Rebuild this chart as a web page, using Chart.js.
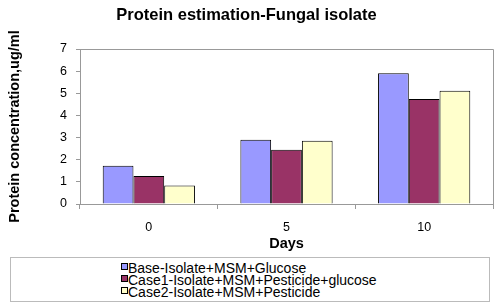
<!DOCTYPE html>
<html>
<head>
<meta charset="utf-8">
<script src="https://cdn.jsdelivr.net/npm/chart.js@4.4.1/dist/chart.umd.min.js"></script>
<style>
  html, body { margin: 0; padding: 0; background: #fff; }
  #wrap { position: relative; width: 500px; height: 308px; overflow: hidden; }
  #c { position: absolute; left: 0; top: 0; }
  #legend {
    position: absolute; left: 10px; top: 257px; width: 478px; height: 43px;
    border: 1px solid #bbb; box-sizing: content-box;
    font-family: "Liberation Sans", Arial, sans-serif; font-size: 14px; color: #000;
  }
  .item { position: absolute; left: 110px; height: 12px; line-height: 12px; white-space: nowrap; }
  .sw { position: absolute; left: 0; top: 1px; width: 5px; height: 5px; border: 1px solid #000; }
  .lbl { position: absolute; left: 7px; top: 0; }
</style>
</head>
<body>
<div id="wrap">
  <canvas id="c" width="500" height="255"></canvas>
  <div id="legend"></div>
</div>
<script>
const categories = ["0", "5", "10"];
const seriesNames = [
  "Base-Isolate+MSM+Glucose",
  "Case1-Isolate+MSM+Pesticide+glucose",
  "Case2-Isolate+MSM+Pesticide"
];
const baseValues = [1.73, 2.90, 5.90];
const case1Values = [1.26, 2.45, 4.74];
const case2Values = [0.83, 2.86, 5.12];
const seriesColors = ["#9999FF", "#993366", "#FFFFCC"];
const yTicks = [0, 1, 2, 3, 4, 5, 6, 7];

const FONT = "'Liberation Sans', Arial, sans-serif";
const seriesValues = [baseValues, case1Values, case2Values];

const frame = {
  id: 'frame',
  afterDraw(chart) {
    const a = chart.chartArea, ctx = chart.ctx;
    ctx.save();
    ctx.strokeStyle = '#999';
    ctx.lineWidth = 1;
    ctx.beginPath();
    ctx.moveTo(Math.round(a.left) + 0.5, Math.round(a.top) + 0.5);
    ctx.lineTo(Math.round(a.right) + 0.5, Math.round(a.top) + 0.5);
    ctx.lineTo(Math.round(a.right) + 0.5, Math.round(a.bottom) + 0.5);
    ctx.stroke();
    ctx.restore();
  }
};

new Chart(document.getElementById('c'), {
  type: 'bar',
  data: {
    labels: categories,
    datasets: seriesNames.map((n, i) => ({
      label: n,
      data: seriesValues[i],
      backgroundColor: seriesColors[i],
      borderColor: '#000',
      borderWidth: 1,
      categoryPercentage: 0.67,
      barPercentage: 1.0
    }))
  },
  options: {
    responsive: false,
    animation: false,
    layout: { padding: { left: 0, right: 7, top: 0, bottom: 0 } },
    plugins: {
      legend: { display: false },
      tooltip: { enabled: false },
      title: {
        display: true,
        text: 'Protein estimation-Fungal isolate',
        color: '#000',
        font: { family: FONT, size: 16.5, weight: 'bold' },
        padding: { top: 5.6, bottom: 23.6 }
      }
    },
    scales: {
      x: {
        afterFit(s) { s.height = 51; },
        grid: { drawOnChartArea: false, drawTicks: true, tickLength: 5, color: '#999', offset: true },
        border: { display: true, color: '#999' },
        ticks: { color: '#000', font: { family: FONT, size: 12.5 }, padding: 11 },
        title: {
          display: true, text: 'Days', color: '#000',
          font: { family: FONT, size: 14.5, weight: 'bold' },
          padding: { top: 0, bottom: 2.3 }
        }
      },
      y: {
        min: 0, max: 7,
        afterFit(s) { s.width = 80; },
        afterBuildTicks(s) { s.ticks = yTicks.map(v => ({ value: v })); },
        grid: { drawOnChartArea: false, drawTicks: true, tickLength: 4, color: '#999' },
        border: { display: true, color: '#999' },
        ticks: { color: '#000', font: { family: FONT, size: 12.5 }, padding: 9 },
        title: {
          display: true, text: 'Protein concentration,ug/ml', color: '#000',
          font: { family: FONT, size: 14.5, weight: 'bold' },
          padding: { top: 6.6, bottom: 0 }
        }
      }
    }
  },
  plugins: [frame]
});

const leg = document.getElementById('legend');
seriesNames.forEach((n, i) => {
  const it = document.createElement('div');
  it.className = 'item';
  it.style.top = (4 + i * 11.9) + 'px';
  const sw = document.createElement('span');
  sw.className = 'sw';
  sw.style.background = seriesColors[i];
  const lb = document.createElement('span');
  lb.className = 'lbl';
  lb.textContent = n;
  it.appendChild(sw); it.appendChild(lb);
  leg.appendChild(it);
});
</script>
</body>
</html>
